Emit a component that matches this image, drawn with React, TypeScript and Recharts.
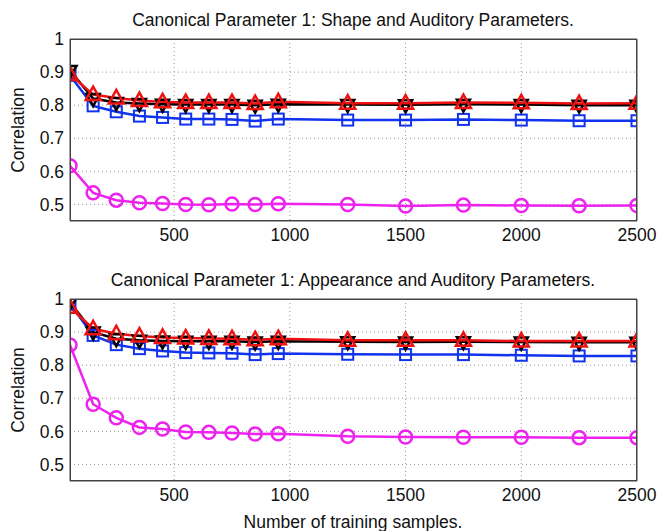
import React from 'react';
import { LineChart, Line, XAxis, YAxis, CartesianGrid } from 'recharts';

const samples = [50, 150, 250, 350, 450, 550, 650, 750, 850, 950, 1250, 1500, 1750, 2000, 2250, 2500];
const xTicks = [500, 1000, 1500, 2000, 2500];
const yTicks = [0.5, 0.6, 0.7, 0.8, 0.9, 1];

// top panel: shape + auditory
const shapeBlack = [0.905, 0.82, 0.808, 0.805, 0.803, 0.802, 0.802, 0.802, 0.8, 0.803, 0.802, 0.801, 0.803, 0.802, 0.8, 0.8];
const shapeRed = [0.893, 0.832, 0.822, 0.814, 0.81, 0.808, 0.808, 0.808, 0.805, 0.81, 0.806, 0.806, 0.808, 0.807, 0.805, 0.806];
const shapeBlue = [0.89, 0.798, 0.78, 0.767, 0.763, 0.758, 0.758, 0.757, 0.752, 0.758, 0.755, 0.755, 0.757, 0.755, 0.753, 0.753];
const shapeMagenta = [0.617, 0.535, 0.513, 0.505, 0.503, 0.5, 0.499, 0.501, 0.5, 0.502, 0.5, 0.495, 0.498, 0.497, 0.496, 0.497];

// bottom panel: appearance + auditory
const appBlack = [0.99, 0.9, 0.88, 0.875, 0.873, 0.872, 0.872, 0.872, 0.87, 0.872, 0.871, 0.87, 0.871, 0.87, 0.869, 0.869];
const appRed = [0.975, 0.91, 0.895, 0.888, 0.884, 0.882, 0.881, 0.88, 0.877, 0.88, 0.875, 0.875, 0.875, 0.873, 0.873, 0.873];
const appBlue = [0.985, 0.89, 0.862, 0.85, 0.843, 0.838, 0.837, 0.836, 0.832, 0.835, 0.833, 0.832, 0.832, 0.83, 0.828, 0.828];
const appMagenta = [0.861, 0.682, 0.641, 0.612, 0.607, 0.598, 0.597, 0.595, 0.592, 0.593, 0.585, 0.583, 0.582, 0.582, 0.581, 0.581];

const topData = samples.map((n, i) => ({ n, black: shapeBlack[i], red: shapeRed[i], blue: shapeBlue[i], magenta: shapeMagenta[i] }));
const bottomData = samples.map((n, i) => ({ n, black: appBlack[i], red: appRed[i], blue: appBlue[i], magenta: appMagenta[i] }));

const FONT = '"Liberation Sans", Arial, Helvetica, sans-serif';
const AXIS = '#444';
const BLUE = '#1133ee';
const RED = '#ee1111';
const MAGENTA = '#ee22ee';

const UpTri = (props: any) => {
  const { cx, cy } = props;
  if (cx == null || cy == null) return null;
  return <path d={`M${cx},${cy - 8} L${cx + 7.5},${cy + 5.5} L${cx - 7.5},${cy + 5.5} Z`} fill="none" stroke={RED} strokeWidth={2.5} />;
};
const DownTri = (props: any) => {
  const { cx, cy } = props;
  if (cx == null || cy == null) return null;
  return <path d={`M${cx},${cy + 7.5} L${cx + 6.5},${cy - 4.5} L${cx - 6.5},${cy - 4.5} Z`} fill="none" stroke="#000" strokeWidth={2.5} />;
};
const Square = (props: any) => {
  const { cx, cy } = props;
  if (cx == null || cy == null) return null;
  return <rect x={cx - 5.5} y={cy - 5.5} width={11} height={11} fill="none" stroke={BLUE} strokeWidth={2} />;
};
const Circle = (props: any) => {
  const { cx, cy } = props;
  if (cx == null || cy == null) return null;
  return <circle cx={cx} cy={cy} r={6.5} fill="none" stroke={MAGENTA} strokeWidth={2.5} />;
};

const tickStyle = { fontSize: 17.5, fill: '#111', fontFamily: FONT };

const Panel = ({ data, height, bottom }: { data: any[]; height: number; bottom: number }) => (
  <LineChart width={658} height={height} data={data} margin={{ top: 39, right: 21, left: 0, bottom }}>
    <CartesianGrid stroke="#999" strokeDasharray="1 3" horizontalValues={[0.5, 0.6, 0.7, 0.8, 0.9]} verticalValues={[500, 1000, 1500, 2000]} />
    <XAxis dataKey="n" type="number" domain={[50, 2500]} ticks={xTicks} tick={tickStyle} tickLine={false} axisLine={{ stroke: AXIS }} height={30} allowDataOverflow />
    <XAxis xAxisId="top" dataKey="n" orientation="top" type="number" domain={[50, 2500]} ticks={xTicks} tick={false} mirror tickSize={5} tickLine={{ stroke: AXIS }} axisLine={{ stroke: AXIS }} />
    <XAxis xAxisId="in" dataKey="n" orientation="bottom" type="number" domain={[50, 2500]} ticks={xTicks} tick={false} mirror tickSize={5} tickLine={{ stroke: AXIS }} axisLine={false} />
    <YAxis type="number" domain={[0.45, 1]} ticks={yTicks} tick={tickStyle} tickLine={false} tickSize={4} tickMargin={2} axisLine={{ stroke: AXIS }} width={70} allowDataOverflow />
    <YAxis yAxisId="right" orientation="right" type="number" domain={[0.45, 1]} ticks={yTicks} tick={false} mirror tickSize={5} tickLine={{ stroke: AXIS }} axisLine={{ stroke: AXIS }} />
    <YAxis yAxisId="in" orientation="left" type="number" domain={[0.45, 1]} ticks={yTicks} tick={false} mirror tickSize={5} tickLine={{ stroke: AXIS }} axisLine={false} />
    <Line dataKey="magenta" stroke={MAGENTA} strokeWidth={2.5} dot={<Circle />} isAnimationActive={false} />
    <Line dataKey="blue" stroke={BLUE} strokeWidth={2.5} dot={<Square />} isAnimationActive={false} />
    <Line dataKey="black" stroke="#000" strokeWidth={2.5} dot={<DownTri />} isAnimationActive={false} />
    <Line dataKey="red" stroke={RED} strokeWidth={2.5} dot={<UpTri />} isAnimationActive={false} />
  </LineChart>
);

const textBase: React.CSSProperties = { position: 'absolute', fontFamily: FONT, fontSize: 17.5, color: '#111', whiteSpace: 'nowrap', lineHeight: '20px' };

const YLabel = ({ top }: { top: number }) => (
  <div style={{ ...textBase, left: 18, top, transform: 'translate(-50%, -50%) rotate(-90deg)' }}>Correlation</div>
);

const Frame = ({ top }: { top: number }) => (
  <div style={{ position: 'absolute', left: 70, top, width: 567, height: 182, border: `1px solid ${AXIS}`, boxSizing: 'border-box', pointerEvents: 'none' }} />
);

export default function App() {
  return (
    <div style={{ position: 'absolute', left: 0, top: 0, width: 658, height: 531, background: '#fff', overflow: 'hidden' }}>
      <div style={{ position: 'absolute', left: 0, top: 0 }}>
        <Panel data={topData} height={260} bottom={9} />
      </div>
      <div style={{ position: 'absolute', left: 0, top: 260 }}>
        <Panel data={bottomData} height={271} bottom={20} />
      </div>
      <Frame top={39} />
      <Frame top={299} />
      <div style={{ ...textBase, left: 353, top: 10, transform: 'translateX(-50%)' }}>
        Canonical Parameter 1: Shape and Auditory Parameters.
      </div>
      <div style={{ ...textBase, left: 353, top: 270, transform: 'translateX(-50%)' }}>
        Canonical Parameter 1: Appearance and Auditory Parameters.
      </div>
      <YLabel top={130} />
      <YLabel top={390} />
      <div style={{ ...textBase, left: 353, top: 512, transform: 'translateX(-50%)' }}>
        Number of training samples.
      </div>
    </div>
  );
}
